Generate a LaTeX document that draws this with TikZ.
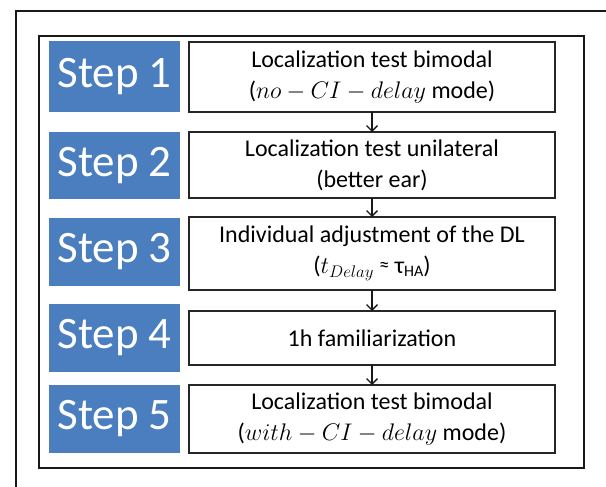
\RequirePackage{fix-cm}
\documentclass[tikz,border=0pt]{standalone}
\usepackage{fontspec}
\setmainfont{Carlito}
\usetikzlibrary{arrows.meta}
\definecolor{stepblue}{HTML}{4A7EBE}
\begin{document}
\begin{tikzpicture}[x=1pt,y=-1pt,
  stepbox/.style={fill=stepblue, text=white, inner sep=0pt, outer sep=0pt, anchor=north west,
    minimum width=131pt, font=\fontsize{45}{50}\selectfont},
  textbox/.style={draw=black!85, line width=1.3pt, fill=white, inner sep=0pt, outer sep=0pt,
    anchor=north west, minimum width=366pt, align=center, font=\fontsize{24}{31}\selectfont},
  flow/.style={line width=1.4pt, draw=black!90, -{Straight Barb[length=5.5pt,width=11pt]}},
  frameline/.style={line width=2pt, draw=black!90}]
\useasboundingbox (0,0) rectangle (606,487);
\fill[white] (0,0) rectangle (606,487);
% outer partial frame
\coordinate (otl) at (16,11);
\coordinate (otr) at (607,11);
\coordinate (obl) at (16,488);
\draw[frameline] (otr) -- (otl) -- (obl);
% inner frame
\node[frameline, draw, inner sep=0pt, outer sep=0pt, anchor=north west,
  minimum width=545pt, minimum height=432pt] (inner) at (39,36) {};
% step labels
\node[stepbox, minimum height=71pt] (s1) at (49,41) {Step 1};
\node[stepbox, minimum height=67pt] (s2) at (49,132) {Step 2};
\node[stepbox, minimum height=68pt] (s3) at (49,218) {Step 3};
\node[stepbox, minimum height=68pt] (s4) at (49,304) {Step 4};
\node[stepbox, minimum height=68pt] (s5) at (49,385) {Step 5};
% text boxes
\node[textbox, minimum height=70pt] (t1) at (189,42)
  {Localization test bimodal\\($no-CI-delay$ mode)};
\node[textbox, minimum height=66pt] (t2) at (189,132)
  {Localization test unilateral\\(better ear)};
\node[textbox, minimum height=73pt] (t3) at (189,217)
  {Individual adjustment of the DL\\($t_{Delay}$ {\fontsize{20}{20}\selectfont\raisebox{2pt}{≈}} τ\raisebox{-3pt}{\fontsize{16}{18}\selectfont HA})};
\node[textbox, minimum height=54pt] (t4) at (189,311)
  {1h familiarization};
\node[textbox, minimum height=68pt] (t5) at (189,385)
  {Localization test bimodal\\($with-CI-delay$ mode)};
% connectors
\draw[flow] (t1.south) -- (t2.north);
\draw[flow] (t2.south) -- (t3.north);
\draw[flow] (t3.south) -- (t4.north);
\draw[flow] (t4.south) -- (t5.north);
\end{tikzpicture}
\end{document}
